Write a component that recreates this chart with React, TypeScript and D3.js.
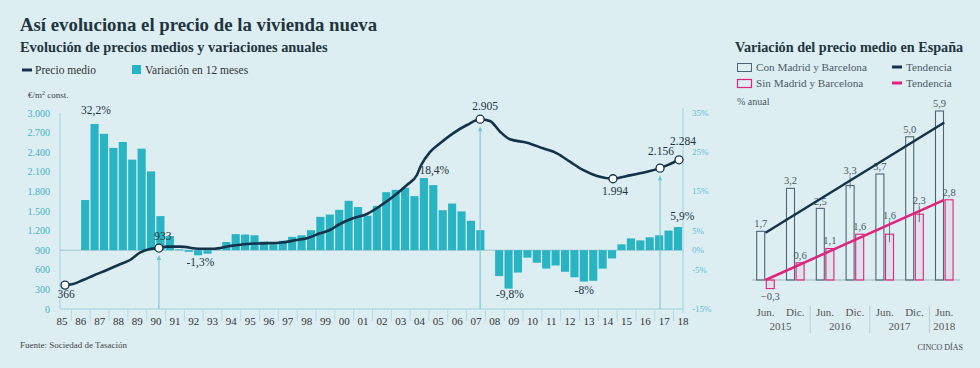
import React from "react";
import * as d3 from "d3";

// price line (euros / m2, constant)
const priceYears = [
  1985.16, 1985.53, 1986.12, 1986.65, 1987.39, 1988.08, 1988.61, 1989.14, 1989.68, 1990.15,
  1990.58, 1991.27, 1992.33, 1993.02, 1993.93, 1994.83, 1995.68, 1996.58, 1997.49, 1998.02,
  1998.71, 1999.24, 1999.77, 2000.46, 2001.21, 2001.9, 2002.59, 2003.33, 2003.86, 2004.08,
  2004.55, 2005.09, 2005.78, 2006.52, 2007.22, 2007.74, 2008.28, 2008.8, 2009.71, 2010.56,
  2011.3, 2011.99, 2012.68, 2013.43, 2014.28, 2015.02, 2015.71, 2016.78, 2017.31, 2017.79,
];
const priceValues = [
  366, 378, 444, 510, 597, 684, 750, 862, 918, 933,
  954, 954, 923, 923, 964, 995, 1005, 1015, 1056, 1082,
  1158, 1209, 1301, 1388, 1454, 1577, 1719, 1898, 2051, 2200,
  2400, 2536, 2689, 2816, 2905, 2878, 2714, 2597, 2546, 2459,
  2383, 2255, 2128, 2036, 1994, 2036, 2077, 2156, 2220, 2284,
];
// points that carry a label
const priceMarkIdx = [0, 9, 34, 44, 47, 49];
const priceMarkText = ["366", "933", "2.905", "1.994", "2.156", "2.284"];

// half-year variation in 12 months (%), first bar = first half of 1986
const firstBarYear = 1986;
const variation = [
  12.8, 32.2, 29.7, 26.1, 27.6, 23.1, 25.9, 20.1, 8.7, 3.6,
  0.2, -0.4, -1.3, -0.9, 0.2, 2.1, 4.1, 4.0, 3.8, 2.2,
  1.5, 2.4, 3.4, 3.8, 5.1, 8.5, 9.1, 10.3, 12.6, 11.0,
  8.8, 11.3, 14.8, 15.4, 15.9, 13.8, 18.4, 16.6, 10.2, 11.9,
  9.9, 7.5, 5.1, 0, -6.6, -9.8, -5.7, -1.9, -3.2, -4.7,
  -3.9, -5.5, -6.9, -8.0, -7.8, -4.7, -2.1, 1.5, 3.0, 2.5,
  3.3, 3.8, 5.0, 5.9,
];
const barNoteIdx = [1, 12, 36, 45, 53, 63];
const barNoteText = ["32,2%", "-1,3%", "18,4%", "-9,8%", "-8%", "5,9%"];

const yearLabels = [
  "85", "86", "87", "88", "89", "90", "91", "92", "93", "94", "95", "96", "97", "98", "99", "00", "01",
  "02", "03", "04", "05", "06", "07", "08", "09", "10", "11", "12", "13", "14", "15", "16", "17", "18",
];
const priceTicks = [0, 300, 600, 900, 1200, 1500, 1800, 2100, 2400, 2700, 3000];
const pctTicks = [35, 25, 15, 5, 0, -5, -15];

// right panel
const periods = ["Jun. 2015", "Dic. 2015", "Jun. 2016", "Dic. 2016", "Jun. 2017", "Dic. 2017", "Jun. 2018"];
const periodMonth = ["Jun.", "Dic.", "Jun.", "Dic.", "Jun.", "Dic.", "Jun."];
const periodYears = ["2015", "2016", "2017", "2018"];
const conMadrid = [1.7, 3.2, 2.5, 3.3, 3.7, 5.0, 5.9];
const sinMadrid = [-0.3, 0.6, 1.1, 1.6, 1.6, 2.3, 2.8];
const conTrend = [1.65, 5.5];
const sinTrend = [0.0, 2.8];

const BG = "#ddeef3";
const TEAL = "#28b4c2";
const NAVY = "#12334a";
const PINK = "#e0237b";
const SLATE = "#4a6672";
const TXT = "#22343d";
const GREY = "#4a5a62";
const FONT = "'Liberation Serif', 'Times New Roman', serif";

const esLocale = d3.formatLocale({ decimal: ",", thousands: ".", grouping: [3], currency: ["", "€"] });
const fmtPrice = esLocale.format(",d");
const fmtOne = esLocale.format(".1f");

export default function App() {
  const x = d3.scaleLinear().domain([1985, 2018]).range([62, 683]);
  const yP = d3.scaleLinear().domain([0, 3000]).range([309, 113]);
  const yV = d3.scaleLinear().domain([-15, 35]).range([309, 113]);

  const line = d3
    .line<number>()
    .x((d, i) => x(priceYears[i]))
    .y((d) => yP(d))
    .curve(d3.curveMonotoneX);

  const bars = variation.map((v, i) => ({ t: firstBarYear + i * 0.5, v }));

  // label offsets (dx, dy) for the price marks and bar notes
  const markOff = [[1, 13], [4, -8], [5, -9], [2, 16], [1, -13], [4, -15]];
  const noteOff = [[1, -10], [2, 11], [10, -4], [1, 9], [0, 12], [4, -7]];
  const arrowMarks = [1, 2, 4];

  // right panel scales
  const band = d3.scaleBand<string>().domain(periods).range([750.6, 959.2]);
  const yR = d3.scaleLinear().domain([0, 5.9]).range([280, 111]);
  const cx = (p: string) => (band(p) ?? 0) + band.bandwidth() / 2;
  // label lifts for crowded values in the right panel (pins drawn for these)
  const conLift = [4, 4, 3, 11, 4, 4, 4];
  const sinLift = [4, 4, 4, 4, 15, 10, 4];

  return (
    <svg
      width={980}
      height={368}
      style={{ position: "absolute", left: 0, top: 0, fontFamily: FONT }}
    >
      <rect width={980} height={368} fill={BG} />

      {/* titles */}
      <text x={20} y={31} fontSize={18.8} fontWeight="bold" fill={TXT}>
        Así evoluciona el precio de la vivienda nueva
      </text>
      <text x={20} y={52} fontSize={14.4} fontWeight="bold" fill={TXT}>
        Evolución de precios medios y variaciones anuales
      </text>

      {/* legend left */}
      <line x1={22} x2={32} y1={70} y2={70} stroke={NAVY} strokeWidth={3} />
      <text x={35} y={74} fontSize={11.5} fill="#333">Precio medio</text>
      <rect x={132} y={65} width={9} height={9} fill={TEAL} />
      <text x={145} y={74} fontSize={11.5} fill="#333">Variación en 12 meses</text>
      <text x={28} y={98} fontSize={9} fill="#444">
        €/m<tspan fontSize={6} dy={-3}>2</tspan>
        <tspan dy={3}> const.</tspan>
      </text>

      {/* axes */}
      {priceTicks.map((t) => (
        <text key={"p" + t} x={50} y={yP(t) + 3.5} fontSize={10} fill="#45b2c3" textAnchor="end">
          {fmtPrice(t)}
        </text>
      ))}
      {pctTicks.map((t) => (
        <text key={"v" + t} x={692} y={yV(t) + 3} fontSize={9} fill="#5cc0d0">
          {t}%
        </text>
      ))}
      <line x1={60} x2={60} y1={113} y2={309} stroke="#9fd3dc" />
      <line x1={683} x2={683} y1={108} y2={313} stroke="#9fd3dc" />
      <line x1={60} x2={683} y1={309} y2={309} stroke="#9fd3dc" />
      {yearLabels.map((l, i) => (
        <text key={"y" + i} x={x(1985 + i)} y={325} fontSize={11} fill="#333" textAnchor="middle">
          {l}
        </text>
      ))}
      {yearLabels.slice(1).map((l, i) => (
        <line
          key={"t" + i}
          x1={x(1985.5 + i)}
          x2={x(1985.5 + i)}
          y1={309}
          y2={321}
          stroke="#b3dbe3"
        />
      ))}

      {/* zero line */}
      <line x1={60} x2={683} y1={yV(0)} y2={yV(0)} stroke="#8fbcc6" strokeWidth={0.8} />

      {/* bars */}
      {bars.map((b, i) => (
        <rect
          key={"b" + i}
          x={x(b.t) + 0.3}
          width={x(b.t + 0.5) - x(b.t) - 1.3}
          y={yV(Math.max(b.v, 0))}
          height={Math.abs(yV(b.v) - yV(0))}
          fill={TEAL}
        />
      ))}

      {/* arrows */}
      {arrowMarks.map((k) => {
        const ax = x(priceYears[priceMarkIdx[k]]);
        const top = yP(priceValues[priceMarkIdx[k]]) + 7;
        return (
          <g key={"a" + k}>
            <line x1={ax} x2={ax} y1={top + 3} y2={309} stroke="#6cc5d2" strokeWidth={1} />
            <path d={`M${ax},${top} L${ax - 2.2},${top + 5} L${ax + 2.2},${top + 5} Z`} fill="#6cc5d2" />
          </g>
        );
      })}

      {/* price line */}
      <path d={line(priceValues) ?? ""} fill="none" stroke={NAVY} strokeWidth={2.6} />
      {priceMarkIdx.map((idx, k) => (
        <g key={"m" + k}>
          <circle cx={x(priceYears[idx])} cy={yP(priceValues[idx])} r={4} fill="#fff" stroke={NAVY} strokeWidth={1.3} />
          <text
            x={x(priceYears[idx]) + markOff[k][0]}
            y={yP(priceValues[idx]) + markOff[k][1]}
            fontSize={11.5}
            fill={TXT}
            textAnchor="middle"
          >
            {priceMarkText[k]}
          </text>
        </g>
      ))}
      {barNoteIdx.map((idx, k) => {
        const b = bars[idx];
        const bx = (x(b.t) + x(b.t + 0.5)) / 2;
        return (
          <text
            key={"n" + k}
            x={bx + noteOff[k][0]}
            y={yV(b.v) + noteOff[k][1]}
            fontSize={11.5}
            fill={TXT}
            textAnchor="middle"
          >
            {barNoteText[k]}
          </text>
        );
      })}

      <text x={20} y={348} fontSize={9} fill="#444">Fuente: Sociedad de Tasación</text>

      {/* right panel */}
      <text x={735} y={52} fontSize={14.2} fontWeight="bold" fill={TXT}>
        Variación del precio medio en España
      </text>
      <rect x={737.5} y={63.5} width={14} height={8} fill="none" stroke={SLATE} strokeWidth={1} />
      <text x={756} y={71} fontSize={11.2} fill={GREY}>Con Madrid y Barcelona</text>
      <line x1={892} x2={902} y1={67} y2={67} stroke={NAVY} strokeWidth={3} />
      <text x={906} y={71} fontSize={11.2} fill={GREY}>Tendencia</text>
      <rect x={737.5} y={79.5} width={14} height={8} fill="none" stroke={PINK} strokeWidth={1.2} />
      <text x={756} y={87} fontSize={11.2} fill={GREY}>Sin Madrid y Barcelona</text>
      <line x1={892} x2={902} y1={83} y2={83} stroke={PINK} strokeWidth={3} />
      <text x={906} y={87} fontSize={11.2} fill={GREY}>Tendencia</text>
      <text x={737} y={105} fontSize={10} fill={GREY}>% anual</text>

      <line x1={752} x2={960} y1={yR(0)} y2={yR(0)} stroke="#9fb5bd" />

      {periods.map((p, i) => {
        const c = cx(p);
        const vc = conMadrid[i];
        const vs = sinMadrid[i];
        return (
          <g key={"r" + i}>
            <rect
              x={c - 8.8}
              width={8}
              y={yR(Math.max(vc, 0))}
              height={Math.abs(yR(vc) - yR(0))}
              fill="rgba(255,255,255,0.12)"
              stroke={SLATE}
              strokeWidth={1.1}
            />
            <rect
              x={c + 0.8}
              width={8}
              y={yR(Math.max(vs, 0))}
              height={Math.abs(yR(vs) - yR(0))}
              fill="rgba(224,35,123,0.06)"
              stroke={PINK}
              strokeWidth={1.1}
            />
            {conLift[i] > 8 && (
              <line x1={c - 4.8} x2={c - 4.8} y1={yR(vc) - conLift[i] + 2} y2={yR(vc) + 3} stroke={GREY} strokeWidth={0.8} />
            )}
            {sinLift[i] > 8 && (
              <line x1={c + 4.8} x2={c + 4.8} y1={yR(vs) - sinLift[i] + 2} y2={yR(vs) + 8} stroke={GREY} strokeWidth={0.8} />
            )}
            <text x={c - 4.8} y={yR(vc) - conLift[i]} fontSize={10.5} fill={GREY} textAnchor="middle">
              {fmtOne(vc)}
            </text>
            <text
              x={c + 4.8}
              y={vs < 0 ? yR(vs) + 11 : yR(vs) - sinLift[i]}
              fontSize={10.5}
              fill={GREY}
              textAnchor="middle"
            >
              {fmtOne(vs)}
            </text>
            <text x={c} y={316} fontSize={11} fill="#555" textAnchor="middle">
              {periodMonth[i]}
            </text>
          </g>
        );
      })}
      {periodYears.map((yl, k) => {
        const c =
          k < 3 ? (cx(periods[k * 2]) + cx(periods[k * 2 + 1])) / 2 : cx(periods[6]);
        return (
          <text key={"py" + k} x={c} y={330} fontSize={11} fill="#555" textAnchor="middle">
            {yl}
          </text>
        );
      })}
      {[2, 4, 6].map((k) => (
        <line
          key={"s" + k}
          x1={band(periods[k]) ?? 0}
          x2={band(periods[k]) ?? 0}
          y1={306}
          y2={333}
          stroke="#b9cdd4"
        />
      ))}
      <line
        x1={cx(periods[0])}
        x2={cx(periods[6])}
        y1={yR(conTrend[0])}
        y2={yR(conTrend[1])}
        stroke={NAVY}
        strokeWidth={2.5}
      />
      <line
        x1={cx(periods[0])}
        x2={cx(periods[6])}
        y1={yR(sinTrend[0])}
        y2={yR(sinTrend[1])}
        stroke={PINK}
        strokeWidth={2.5}
      />

      <text x={963} y={350} fontSize={8} fill="#444" textAnchor="end">CINCO DÍAS</text>
    </svg>
  );
}
